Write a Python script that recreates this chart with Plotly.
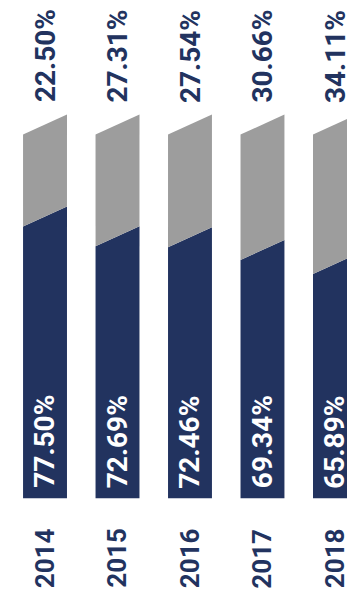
import plotly.graph_objects as go

years = ["2014", "2015", "2016", "2017", "2018"]
share_navy = [77.50, 72.69, 72.46, 69.34, 65.89]
share_gray = [22.50, 27.31, 27.54, 30.66, 34.11]

NAVY = "#22335f"
GRAY = "#9d9d9d"
FONT = "Roboto, Liberation Sans, sans-serif"

floor_v = 11.1      # visible base of the bars (value units)
slant = 4.9         # slant of bar tops (value units)
half_w = 0.303      # half bar width (category units)

fig = go.Figure()
for i, (yr, a, b) in enumerate(zip(years, share_navy, share_gray)):
    total = a + b
    xl, xr = i - half_w, i + half_w
    fig.add_trace(go.Scatter(
        x=[xl, xr, xr, xl, xl], y=[floor_v, floor_v, a + slant, a, floor_v],
        mode="lines", fill="toself", fillcolor=NAVY, line=dict(width=0),
        hoverinfo="skip", showlegend=False))
    fig.add_trace(go.Scatter(
        x=[xl, xr, xr, xl, xl], y=[a, a + slant, total + slant, total, a],
        mode="lines", fill="toself", fillcolor=GRAY, line=dict(width=0),
        hoverinfo="skip", showlegend=False))
    fig.add_annotation(x=i, y=total, text=f"{b:.2f}%", textangle=-90,
                       showarrow=False, xanchor="center", yanchor="bottom",
                       yshift=30, font=dict(family=FONT, size=28, color=NAVY, weight="bold"))
    fig.add_annotation(x=i, y=floor_v, text=f"{a:.2f}%", textangle=-90,
                       showarrow=False, xanchor="center", yanchor="bottom",
                       yshift=8, font=dict(family=FONT, size=28, color="white", weight="bold"))
    fig.add_annotation(x=i, y=floor_v, text=yr, textangle=-90,
                       showarrow=False, xanchor="center", yanchor="top",
                       yshift=-28, font=dict(family=FONT, size=26, color=NAVY, weight="bold"))

fig.update_layout(
    width=347, height=594, margin=dict(l=0, r=0, t=0, b=0),
    paper_bgcolor="white", plot_bgcolor="white",
    xaxis=dict(range=[-0.621, 4.166], visible=False, fixedrange=True),
    yaxis=dict(range=[-12.32, 132.9], visible=False, fixedrange=True),
)
fig.write_html("out.html")
